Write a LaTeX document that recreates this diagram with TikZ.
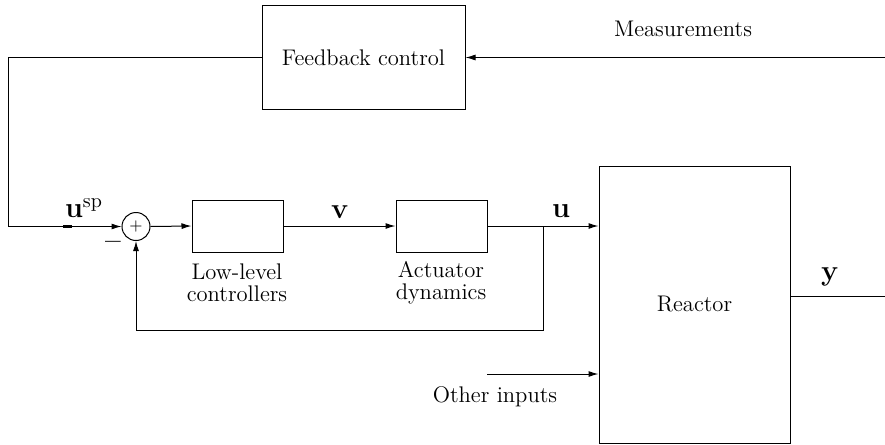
\documentclass[tikz,border=0pt]{standalone}
\usetikzlibrary{arrows.meta,calc}
\begin{document}
\begin{tikzpicture}[x=0.5pt,y=-0.5pt,
  every node/.style={font=\fontsize{11.3}{11}\selectfont},
  blk/.style={draw,line width=0.5pt,inner sep=0pt},
  lbl/.style={inner sep=0pt,align=center},
  sym/.style={inner sep=0pt,font=\fontsize{14}{14}\selectfont},
  conn/.style={line width=0.5pt},
  arr/.style={conn,-{Latex[length=5pt,width=3pt]}}]
\useasboundingbox (0,0) rectangle (885,445);
% blocks
\node[blk,minimum width=101.5pt,minimum height=52pt] (fb) at (363.5,57.5) {Feedback control};
\node[blk,minimum width=45.5pt,minimum height=26pt] (ll) at (237.5,226) {};
\node[blk,minimum width=45.5pt,minimum height=26pt] (act) at (441.5,226) {};
\node[blk,minimum width=95.5pt,minimum height=138.5pt] (re) at (694.5,304.5) {Reactor};
\node[draw,circle,line width=0.5pt,minimum size=14pt,inner sep=0pt,font=\fontsize{8}{8}\selectfont] (sum) at (136,226.5) {$+$};
% coordinates
\coordinate (mR) at (885,57.5);
\coordinate (cL) at (8,57.5);
\coordinate (cLd) at (8,226.5);
\coordinate (br) at (543,226.5);
\coordinate (bb) at (543,330);
\coordinate (sb) at (136,330);
\coordinate (oi) at (487,374);
\coordinate (yo) at (790,296);
\coordinate (yend) at (885,296);
\coordinate (mA) at (63,226.5);
\coordinate (mB) at (72,226.5);
% connectors
\draw[arr] (mR) -- (fb.east);
\draw[arr] (fb.west) -- (cL) -- (cLd) -- (sum.west);
\draw[arr] (sum.east) -- (ll.west);
\draw[arr] (ll.east) -- (act.west);
\draw[arr] (act.east) -- (act.east -| re.west);
\draw[arr] (br) -- (bb) -- (sb) -- (sum.south);
\draw[arr] (oi) -- (oi -| re.west);
\draw[conn] (yo -| re.east) -- (yend);
\draw[line width=1.3pt] (mA) -- (mB);
% labels
\node[lbl] (tm) at (683,29) {Measurements};
\node[sym] (tusp) at (84,208) {$\mathbf{u}^{\mathrm{sp}}$};
\node[sym] (tminus) at (113,245) {\textbf{--}};
\node[lbl] (tll) at (237,283) {Low-level\\controllers};
\node[lbl] (tact) at (441,283) {Actuator\\dynamics};
\node[sym] (tv) at (340,212) {$\mathbf{v}$};
\node[sym] (tu) at (561,211) {$\mathbf{u}$};
\node[sym] (ty) at (830,277) {$\mathbf{y}$};
\node[lbl] (toi) at (495,397) {Other inputs};
\end{tikzpicture}
\end{document}
